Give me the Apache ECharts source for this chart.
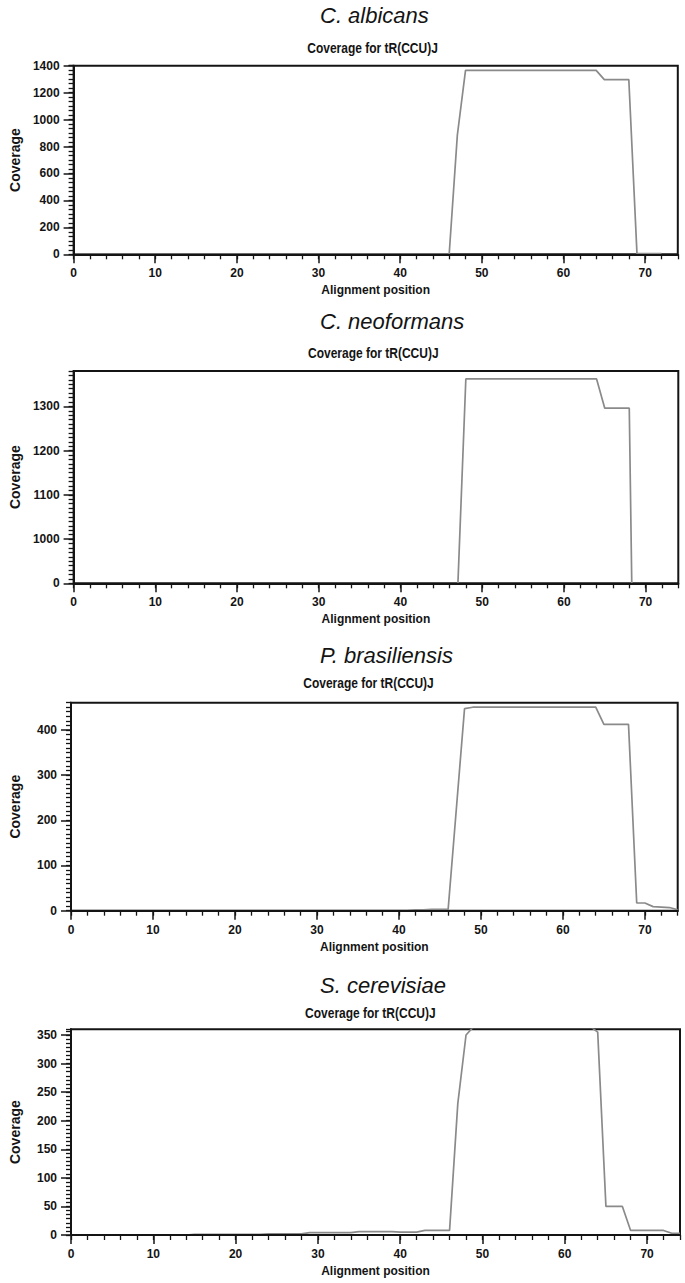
<!DOCTYPE html>
<html>
<head>
<meta charset="utf-8">
<script src="https://cdn.jsdelivr.net/npm/echarts@6/dist/echarts.min.js"></script>
<style>
  html, body { margin: 0; padding: 0; background: #ffffff; }
  #chart { width: 685px; height: 1283px; }
</style>
</head>
<body>
<div id="chart"></div>
<script>
// ---------- data ----------
const speciesNames = ['C. albicans', 'C. neoformans', 'P. brasiliensis', 'S. cerevisiae'];
const chartSubtitle = 'Coverage for tR(CCU)J';
const xAxisName = 'Alignment position';
const yAxisName = 'Coverage';

const positions = [0,1,2,3,4,5,6,7,8,9,10,11,12,13,14,15,16,17,18,19,20,21,22,23,24,25,26,27,28,29,30,31,32,33,34,35,36,37,38,39,40,41,42,43,44,45,46,47,48,49,50,51,52,53,54,55,56,57,58,59,60,61,62,63,64,65,66,67,68,69,70,71,72,73,74];

const albicansCoverage = [0,0,0,0,0,0,0,0,0,0, 0,0,0,0,0,0,0,0,0,0, 0,0,0,0,0,0,0,0,0,0, 0,0,0,0,0,0,0,0,0,0, 0,0,0,0,0,0,0,885,1365,1365, 1365,1365,1365,1365,1365,1365,1365,1365,1365,1365, 1365,1365,1365,1365,1365,1297,1297,1297,1297,5, 5,5,5,null,null];

const neoformansCoverage = [0,0,0,0,0,0,0,0,0,0, 0,0,0,0,0,0,0,0,0,0, 0,0,0,0,0,0,0,0,0,0, 0,0,0,0,0,0,0,0,0,0, 0,0,0,0,0,0,0,885,1362,1362, 1362,1362,1362,1362,1362,1362,1362,1362,1362,1362, 1362,1362,1362,1362,1362,1296,1296,1296,1296,0, 0,0,0,0,0];

const brasiliensisCoverage = [0,0,0,0,0,0,0,0,0,0, 0,0,0,0,0,0,0,0,0,0, 0,0,0,0,0,0,0,0,0,0, 0,0,0,0,0,0,0,0,0,0, 0,0,2,2,3,3,3,225,447,450, 450,450,450,450,450,450,450,450,450,450, 450,450,450,450,450,412,412,412,412,17, 17,9,8,7,2];

const cerevisiaeCoverage = [0,0,0,0,0,0,0,0,0,0, 0,0,0,0,0,1,1,1,1,1, 1,1,1,1,2,2,2,2,2,4, 4,4,4,4,4,6,6,6,6,6, 5,5,5,8,8,8,8,230,350,366, 366,366,366,366,366,366,366,366,366,366, 366,366,366,366,355,50,50,50,8,8, 8,8,8,3,3];

const xTickValues = [0,10,20,30,40,50,60,70];
const xTickLabels = ['0','10','20','30','40','50','60','70'];

const albicansYTicks = [0,200,400,600,800,1000,1200,1400];
const albicansYLabels = ['0','200','400','600','800','1000','1200','1400'];
const neoformansYTicks = [900,1000,1100,1200,1300];
const neoformansYLabels = ['0','1000','1100','1200','1300'];
const brasiliensisYTicks = [0,100,200,300,400];
const brasiliensisYLabels = ['0','100','200','300','400'];
const cerevisiaeYTicks = [0,50,100,150,200,250,300,350];
const cerevisiaeYLabels = ['0','50','100','150','200','250','300','350'];

// ---------- layout / style ----------
const panels = [
  { values: albicansCoverage, yTicks: albicansYTicks, yLabels: albicansYLabels,
    yMin: 0, yMax: 1400, yMajor: 200, yMinor: 200 / 6,
    grid: { left: 67.3, top: 65.7, width: 610.5, height: 188.6 }, titleY: 15.5, subY: 47.7 },
  { values: neoformansCoverage, yTicks: neoformansYTicks, yLabels: neoformansYLabels,
    yMin: 900, yMax: 1380, yMajor: 100, yMinor: 10,
    grid: { left: 68.3, top: 371, width: 610, height: 212.3 }, titleY: 321.7, subY: 352.7 },
  { values: brasiliensisCoverage, yTicks: brasiliensisYTicks, yLabels: brasiliensisYLabels,
    yMin: 0, yMax: 460, yMajor: 100, yMinor: 10,
    grid: { left: 59.3, top: 702.7, width: 618.4, height: 208 }, titleY: 655, subY: 683.3 },
  { values: cerevisiaeCoverage, yTicks: cerevisiaeYTicks, yLabels: cerevisiaeYLabels,
    yMin: 0, yMax: 360, yMajor: 50, yMinor: 50 / 7,
    grid: { left: 60.7, top: 1029.3, width: 619.3, height: 205.7 }, titleY: 985, subY: 1013 }
];

const ink = '#141414';
const lineGray = '#8a8a8a';
const sans = '"Liberation Sans", Arial, Helvetica, sans-serif';
const tickFont = { fontFamily: sans, fontWeight: 'bold', fontSize: 12, color: ink };

const grids = [], xAxes = [], yAxes = [], series = [], graphics = [];

panels.forEach((p, i) => {
  grids.push(Object.assign({ show: true, borderColor: ink, borderWidth: 2, backgroundColor: 'transparent', containLabel: false }, p.grid));

  const xMajorIdx = xAxes.length;
  xAxes.push({
    gridIndex: i, type: 'value', min: 0, max: 74, interval: 10, position: 'bottom', z: 5,
    axisLine: { show: true, onZero: false, lineStyle: { color: ink, width: 2 } },
    axisTick: { show: true, length: 9, customValues: xTickValues, lineStyle: { color: ink, width: 1.5 } },
    axisLabel: Object.assign({ customValues: xTickValues, margin: 13,
      formatter: v => xTickLabels[xTickValues.indexOf(v)] }, tickFont),
    splitLine: { show: false },
    name: xAxisName, nameLocation: 'middle', nameGap: 30,
    nameTextStyle: { fontFamily: sans, fontWeight: 'bold', fontSize: 12, color: ink }
  });
  xAxes.push({
    gridIndex: i, type: 'value', min: 0, max: 74, interval: 2, position: 'bottom', z: 5,
    axisLine: { show: false, onZero: false },
    axisTick: { show: true, length: 5, lineStyle: { color: ink, width: 1.3 } },
    axisLabel: { show: false }, splitLine: { show: false }
  });

  const yMajorIdx = yAxes.length;
  yAxes.push({
    gridIndex: i, type: 'value', min: p.yMin, max: p.yMax, interval: p.yMajor, position: 'left', z: 5,
    axisLine: { show: true, onZero: false, lineStyle: { color: ink, width: 2 } },
    axisTick: { show: true, length: 10, customValues: p.yTicks, lineStyle: { color: ink, width: 1.5 } },
    axisLabel: Object.assign({ customValues: p.yTicks, margin: 14,
      formatter: v => p.yLabels[p.yTicks.indexOf(v)] }, tickFont),
    splitLine: { show: false },
    name: yAxisName, nameLocation: 'middle', nameRotate: 90, nameGap: 49,
    nameTextStyle: { fontFamily: sans, fontWeight: 'bold', fontSize: 14, color: ink }
  });
  yAxes.push({
    gridIndex: i, type: 'value', min: p.yMin, max: p.yMax, interval: p.yMinor, position: 'left', z: 5,
    axisLine: { show: false, onZero: false },
    axisTick: { show: true, length: 5, lineStyle: { color: ink, width: 1.3 } },
    axisLabel: { show: false }, splitLine: { show: false }
  });

  series.push({
    type: 'line', xAxisIndex: xMajorIdx, yAxisIndex: yMajorIdx,
    data: positions.map((x, k) => [x, p.values[k]]),
    showSymbol: false, symbol: 'none', clip: true, z: 2,
    lineStyle: { color: lineGray, width: 1.7 }, connectNulls: false
  });

  graphics.push({
    type: 'text', x: 320, y: p.titleY,
    style: { text: speciesNames[i], fill: ink, fontFamily: sans, fontStyle: 'italic', fontSize: 22,
      textAlign: 'left', textVerticalAlign: 'middle', align: 'left', verticalAlign: 'middle' }
  });
  graphics.push({
    type: 'text', x: p.grid.left + p.grid.width / 2, y: p.subY, scaleY: 1.18,
    style: { text: chartSubtitle, fill: ink, fontFamily: sans, fontWeight: 'bold', fontSize: 12,
      textAlign: 'center', textVerticalAlign: 'middle', align: 'center', verticalAlign: 'middle' }
  });
});

const chart = echarts.init(document.getElementById('chart'), null, { renderer: 'svg', width: 685, height: 1283 });
chart.setOption({
  animation: false,
  backgroundColor: '#ffffff',
  grid: grids,
  xAxis: xAxes,
  yAxis: yAxes,
  series: series,
  graphic: graphics
});
</script>
</body>
</html>
